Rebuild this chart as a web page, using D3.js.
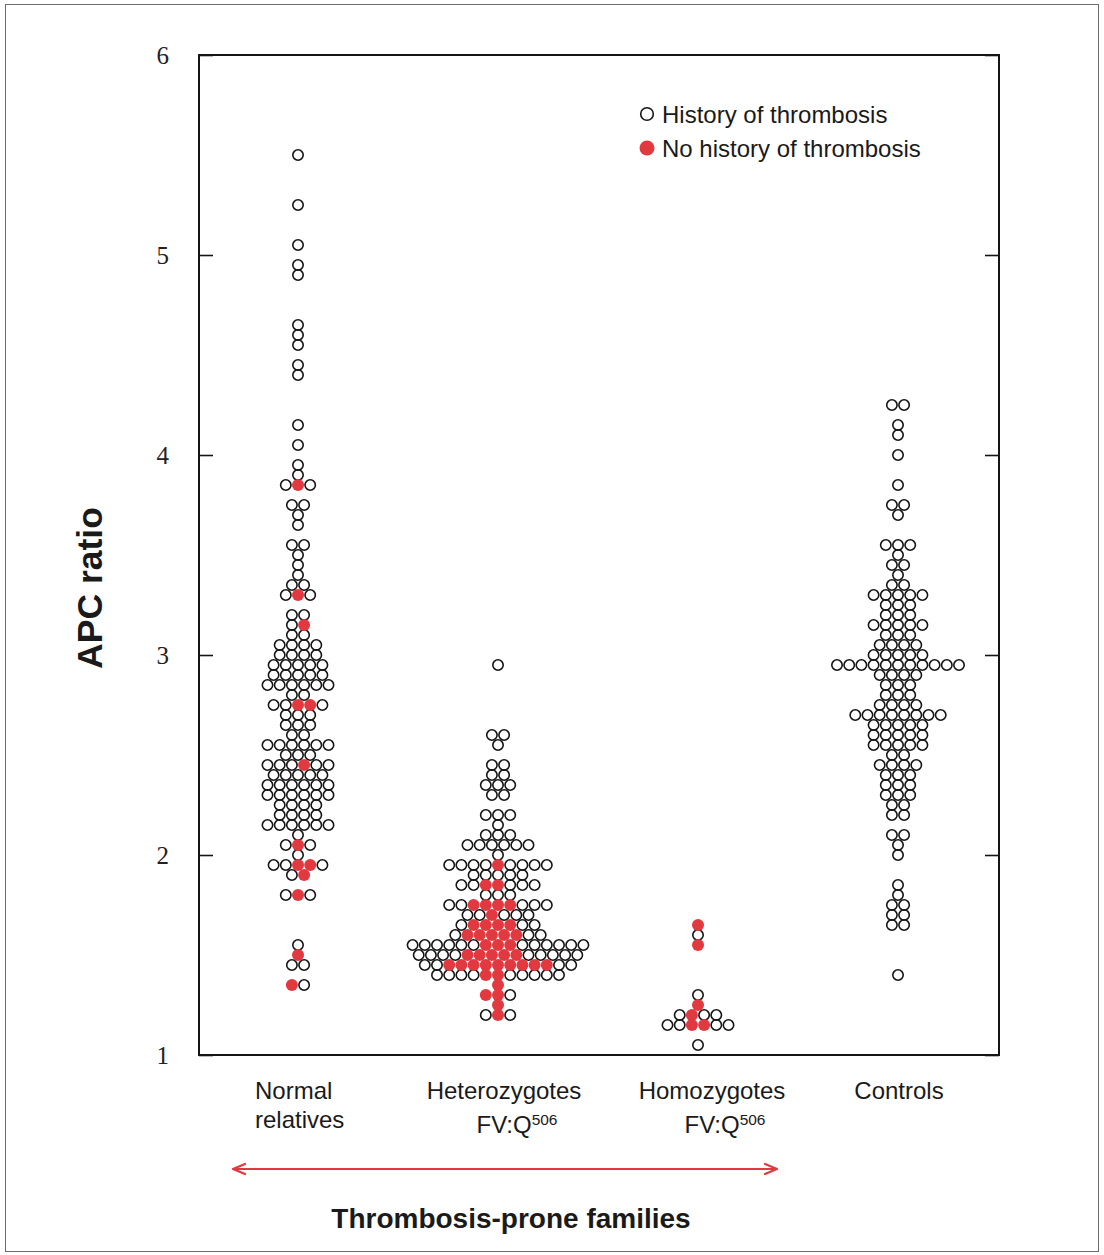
<!DOCTYPE html>
<html>
<head>
<meta charset="utf-8">
<script src="https://cdn.jsdelivr.net/npm/d3@7"></script>
<style>
  html, body { margin: 0; padding: 0; background: #fff; }
  svg { display: block; }
</style>
</head>
<body>
<script>
// ---- data: APC ratio by group; each row is [value, pattern]
// pattern: one character per subject, "o" = history of thrombosis, "*" = no history
const categories = ["Normal relatives", "Heterozygotes", "Homozygotes", "Controls"];
const categoryLines = [["Normal", "relatives"], ["Heterozygotes", "FV:Q"], ["Homozygotes", "FV:Q"], ["Controls"]];
const superscripts = ["", "506", "506", ""];
const yTicks = [1, 2, 3, 4, 5, 6];

const normalRows = [
  [5.50, "o"], [5.25, "o"], [5.05, "o"], [4.95, "o"], [4.90, "o"],
  [4.65, "o"], [4.60, "o"], [4.55, "o"], [4.45, "o"], [4.40, "o"],
  [4.15, "o"], [4.05, "o"], [3.95, "o"], [3.90, "o"], [3.85, "o*o"],
  [3.75, "oo"], [3.70, "o"], [3.65, "o"], [3.55, "oo"], [3.50, "o"],
  [3.45, "o"], [3.40, "o"], [3.35, "oo"], [3.30, "o*o"], [3.20, "oo"],
  [3.15, "o*"], [3.10, "oo"], [3.05, "oooo"], [3.00, "oooo"], [2.95, "ooooo"],
  [2.90, "ooooo"], [2.85, "oooooo"], [2.80, "oo"], [2.75, "oo**o"], [2.70, "ooo"],
  [2.65, "ooo"], [2.60, "oo"], [2.55, "oooooo"], [2.50, "ooo"], [2.45, "ooo*oo"],
  [2.40, "ooooo"], [2.35, "oooooo"], [2.30, "oooooo"], [2.25, "oooo"], [2.20, "oooo"],
  [2.15, "oooooo"], [2.10, "o"], [2.05, "o*o"], [2.00, "o"], [1.95, "oo**o"],
  [1.90, "o*"], [1.80, "o*o"], [1.55, "o"], [1.50, "*"], [1.45, "oo"],
  [1.35, "*o"]
];

const heteroRows = [
  [2.95, "o"], [2.60, "oo"], [2.55, "o"], [2.45, "oo"], [2.40, "oo"],
  [2.35, "ooo"], [2.30, "oo"], [2.20, "ooo"], [2.15, "o"], [2.10, "ooo"],
  [2.05, "oooooo"], [2.00, "o"], [1.95, "oooo*oooo"], [1.90, "ooooo"], [1.85, "oo**ooo"],
  [1.80, "ooo"], [1.75, "oo****ooo"], [1.70, "oo*ooo"], [1.65, "o****oo"], [1.60, "o*****oo"],
  [1.55, "oooooo***oooooo"], [1.50, "oooo*****ooooo"], [1.45, "oo*********oo"],
  [1.40, "oooo**ooooo"], [1.35, "*"], [1.30, "**o"], [1.25, "*"], [1.20, "o*o"]
];

const homoRows = [
  [1.65, "*"], [1.60, "o"], [1.55, "*"], [1.30, "o"], [1.25, "*"],
  [1.20, "o*oo"], [1.15, "oo**oo"], [1.05, "o"]
];

const controlRows = [
  [4.25, "oo"], [4.15, "o"], [4.10, "o"], [4.00, "o"], [3.85, "o"],
  [3.75, "oo"], [3.70, "o"], [3.55, "ooo"], [3.50, "o"], [3.45, "oo"],
  [3.40, "o"], [3.35, "oo"], [3.30, "ooooo"], [3.25, "ooo"], [3.20, "ooo"],
  [3.15, "ooooo"], [3.10, "ooo"], [3.05, "oooo"], [3.00, "ooooo"], [2.95, "ooooooooooo"],
  [2.90, "oooo"], [2.85, "ooo"], [2.80, "ooo"], [2.75, "oooo"], [2.70, "oooooooo"],
  [2.65, "ooooo"], [2.60, "ooooo"], [2.55, "ooooo"], [2.50, "oo"], [2.45, "oooo"],
  [2.40, "ooo"], [2.35, "ooo"], [2.30, "ooo"], [2.25, "oo"], [2.20, "oo"],
  [2.10, "oo"], [2.05, "o"], [2.00, "o"], [1.85, "o"], [1.80, "o"],
  [1.75, "oo"], [1.70, "oo"], [1.65, "oo"], [1.40, "o"]
];

const groupRows = [normalRows, heteroRows, homoRows, controlRows];
const legendItems = [["History of thrombosis", false], ["No history of thrombosis", true]];

// ---- layout
const W = 1104, H = 1255;
const plot = { left: 199, right: 999, top: 55, bottom: 1055 };
const RED = "#e2383f";
const INK = "#151515";
const dotStep = 12.2;   // horizontal spacing between dots in a row
const dotR = 5.2;

const svg = d3.select("body").append("svg")
  .attr("width", W).attr("height", H)
  .style("font-family", "'Liberation Sans', Arial, sans-serif");

// outer figure border
svg.append("rect")
  .attr("x", 5.5).attr("y", 4.5).attr("width", 1093).attr("height", 1247)
  .attr("fill", "none").attr("stroke", "#6b6b6b").attr("stroke-width", 1);

const x = d3.scalePoint().domain(categories).range([plot.left - 1, plot.right - 1]).padding(0.5);
const y = d3.scaleLinear().domain([1, 6]).range([plot.bottom, plot.top]);

// left axis with labels, ticks pointing into the plot
const leftAxis = d3.axisLeft(y).tickValues(yTicks).tickSize(-14).tickPadding(30).tickFormat(d3.format("d"));
const gL = svg.append("g").attr("transform", `translate(${plot.left},0)`).call(leftAxis);
gL.select(".domain").remove();
gL.selectAll(".tick line").attr("stroke", INK).attr("stroke-width", 1.6);
gL.selectAll(".tick text")
  .attr("font-family", "'Liberation Serif', 'Times New Roman', serif")
  .attr("font-size", 25).attr("fill", "#222").attr("dy", "0.34em");

// right axis ticks only
const rightAxis = d3.axisRight(y).tickValues(yTicks).tickSize(-14).tickFormat("");
const gR = svg.append("g").attr("transform", `translate(${plot.right},0)`).call(rightAxis);
gR.select(".domain").remove();
gR.selectAll(".tick line").attr("stroke", INK).attr("stroke-width", 1.6);

// plot frame
svg.append("rect")
  .attr("x", plot.left).attr("y", plot.top)
  .attr("width", plot.right - plot.left).attr("height", plot.bottom - plot.top)
  .attr("fill", "none").attr("stroke", INK).attr("stroke-width", 2);

// dots: build one record per subject
const dots = [];
groupRows.forEach((rows, gi) => {
  rows.forEach(([v, pat]) => {
    const n = pat.length;
    for (let i = 0; i < n; i++) {
      dots.push({ cat: categories[gi], v, k: i - (n - 1) / 2, filled: pat[i] === "*" });
    }
  });
});

const dotLayer = svg.append("g");
dotLayer.selectAll("circle.open")
  .data(dots.filter(d => !d.filled))
  .join("circle").attr("class", "open")
  .attr("cx", d => x(d.cat) + d.k * dotStep)
  .attr("cy", d => y(d.v))
  .attr("r", dotR)
  .attr("fill", "none").attr("stroke", INK).attr("stroke-width", 1.6);
dotLayer.selectAll("circle.filled")
  .data(dots.filter(d => d.filled))
  .join("circle").attr("class", "filled")
  .attr("cx", d => x(d.cat) + d.k * dotStep)
  .attr("cy", d => y(d.v))
  .attr("r", dotR + 0.8)
  .attr("fill", RED);

// legend
const legend = svg.append("g").attr("transform", "translate(647,114)");
legendItems.forEach(([label, filled], i) => {
  const g = legend.append("g").attr("transform", `translate(0,${i * 34})`);
  g.append("circle").attr("r", filled ? 7.5 : 6.3)
    .attr("fill", filled ? RED : "none")
    .attr("stroke", filled ? "none" : INK).attr("stroke-width", 1.6);
  g.append("text").attr("x", 15).attr("y", 8.5)
    .attr("font-size", 24).attr("fill", "#1a1a1a").text(label);
});

// category labels under the plot
const labelOffsets = [[-43, -43], [6, 19], [14, 27], [1, 1]];
categories.forEach((c, i) => {
  const cx = x(c);
  const lines = categoryLines[i];
  lines.forEach((line, li) => {
    const left = i === 0;
    const t = svg.append("text")
      .attr("x", cx + labelOffsets[i][li])
      .attr("y", 1099 + li * (i === 0 ? 29 : 34))
      .attr("text-anchor", left ? "start" : "middle")
      .attr("font-size", 24).attr("fill", "#1a1a1a");
    t.append("tspan").text(line);
    if (li === 1 && superscripts[i]) {
      t.append("tspan").attr("dy", -8).attr("font-size", 15.5).text(superscripts[i]);
    }
  });
});

// "thrombosis-prone" span arrow
const arrowY = 1169, ax0 = 233, ax1 = 777;
const arrow = svg.append("g").attr("stroke", RED).attr("stroke-width", 2.2).attr("fill", "none")
  .attr("stroke-linecap", "round").attr("stroke-linejoin", "round");
arrow.append("line").attr("x1", ax0 + 1).attr("x2", ax1 - 1).attr("y1", arrowY).attr("y2", arrowY);
arrow.append("path").attr("d", `M${ax0 + 12},${arrowY - 5}L${ax0},${arrowY}L${ax0 + 12},${arrowY + 5}`);
arrow.append("path").attr("d", `M${ax1 - 12},${arrowY - 5}L${ax1},${arrowY}L${ax1 - 12},${arrowY + 5}`);

svg.append("text")
  .attr("x", 511).attr("y", 1228).attr("text-anchor", "middle")
  .attr("font-size", 28).attr("font-weight", "bold").attr("fill", "#1a1a1a")
  .text("Thrombosis-prone families");

// y-axis title
svg.append("text")
  .attr("transform", "translate(102,588) rotate(-90)")
  .attr("text-anchor", "middle")
  .attr("font-size", 35.5).attr("font-weight", "bold").attr("fill", "#1a1a1a")
  .text("APC ratio");
</script>
</body>
</html>
